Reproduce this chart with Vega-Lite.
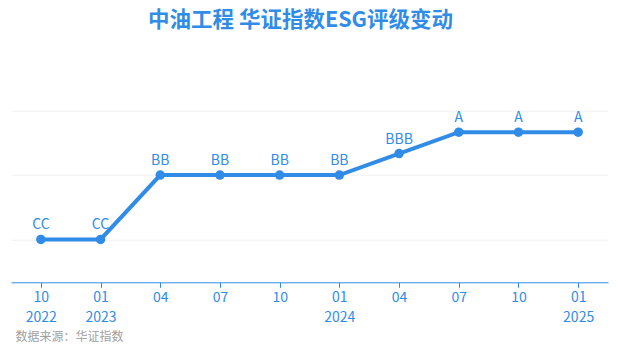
{
  "$schema": "https://vega.github.io/schema/vega-lite/v6.json",
  "width": 597,
  "height": 171.6,
  "autosize": {"type": "none"},
  "padding": {"left": 11, "top": 110.7, "right": 10, "bottom": 72.7},
  "background": "#ffffff",
  "config": {"view": {"stroke": null}, "font": "Noto Sans CJK SC"},
  "title": {
    "text": "中油工程 华证指数ESG评级变动",
    "fontSize": 21.5,
    "font": "Noto Sans CJK SC",
    "fontWeight": "bold",
    "color": "#318ce7",
    "anchor": "middle",
    "offset": 79,
    "dx": -9
  },
  "data": {
    "values": [
      {"period": "2022-10", "rating": "CC", "score": 2},
      {"period": "2023-01", "rating": "CC", "score": 2},
      {"period": "2023-04", "rating": "BB", "score": 5},
      {"period": "2023-07", "rating": "BB", "score": 5},
      {"period": "2023-10", "rating": "BB", "score": 5},
      {"period": "2024-01", "rating": "BB", "score": 5},
      {"period": "2024-04", "rating": "BBB", "score": 6},
      {"period": "2024-07", "rating": "A", "score": 7},
      {"period": "2024-10", "rating": "A", "score": 7},
      {"period": "2025-01", "rating": "A", "score": 7}
    ]
  },
  "encoding": {
    "x": {
      "field": "period",
      "type": "ordinal",
      "sort": null,
      "scale": {"type": "point", "padding": 0.5},
      "axis": {
        "labelAngle": 0,
        "labelExpr": "split(datum.value,'-')[1] == '01' || datum.value == '2022-10' ? [split(datum.value,'-')[1], split(datum.value,'-')[0]] : split(datum.value,'-')[1]",
        "domainColor": "#318ce7",
        "domainWidth": 1,
        "tickColor": "#318ce7",
        "tickSize": 5,
        "labelColor": "#318ce7",
        "labelFontSize": 14,
        "labelLineHeight": 20,
        "labelPadding": 3,
        "labelFont": "Noto Sans CJK SC",
        "grid": false,
        "title": "数据来源：华证指数",
        "titleColor": "#a0a0a0",
        "titleFontSize": 12,
        "titleFontWeight": "normal",
        "titleFont": "Noto Sans CJK SC",
        "titleAnchor": "start",
        "titleAlign": "left",
        "titleX": 4,
        "titlePadding": 7
      }
    },
    "y": {
      "field": "score",
      "type": "quantitative",
      "scale": {"domain": [0, 8]},
      "axis": {
        "values": [2, 5, 8],
        "domain": false,
        "ticks": false,
        "labels": false,
        "title": null,
        "grid": true,
        "gridColor": "#f0f0f0",
        "gridWidth": 1
      }
    }
  },
  "layer": [
    {"mark": {"type": "line", "color": "#318ce7", "strokeWidth": 4}},
    {"mark": {"type": "point", "filled": true, "color": "#318ce7", "size": 90, "opacity": 1}},
    {
      "mark": {"type": "text", "color": "#318ce7", "fontSize": 14, "dy": -10, "baseline": "alphabetic", "font": "Noto Sans CJK SC"},
      "encoding": {"text": {"field": "rating"}}
    }
  ]
}
